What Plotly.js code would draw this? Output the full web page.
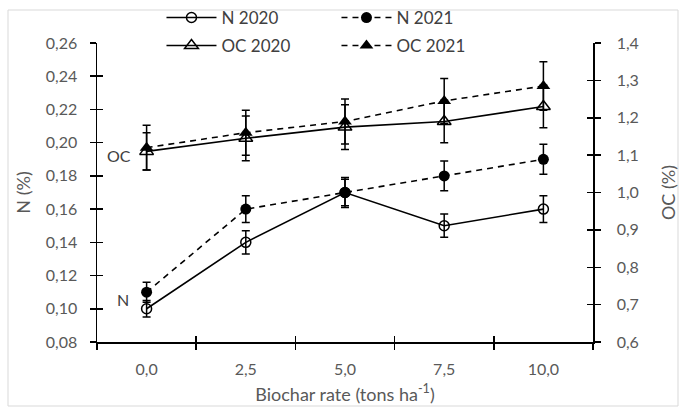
<!DOCTYPE html>
<html>
<head>
<meta charset="utf-8">
<script src="https://cdn.plot.ly/plotly-3.0.1.min.js"></script>
<style>
  html, body { margin: 0; padding: 0; background: #ffffff; }
  #chart { width: 679px; height: 407px; }
</style>
</head>
<body>
<div id="chart"></div>
<script>
// ---- data ----
var rates = ["0,0", "2,5", "5,0", "7,5", "10,0"];

var n2020 = [0.10, 0.14, 0.17, 0.15, 0.16];
var n2020Err = [0.005, 0.007, 0.008, 0.007, 0.008];

var n2021 = [0.11, 0.16, 0.17, 0.18, 0.19];
var n2021Err = [0.006, 0.008, 0.009, 0.009, 0.009];

var oc2020 = [1.11, 1.145, 1.175, 1.19, 1.23];
var oc2020Err = [0.05, 0.06, 0.06, 0.057, 0.057];

var oc2021 = [1.12, 1.16, 1.19, 1.245, 1.285];
var oc2021Err = [0.06, 0.06, 0.06, 0.06, 0.065];

var leftTicks = [0.08, 0.10, 0.12, 0.14, 0.16, 0.18, 0.20, 0.22, 0.24, 0.26];
var rightTicks = [0.6, 0.7, 0.8, 0.9, 1.0, 1.1, 1.2, 1.3, 1.4];
var boundaries = [-0.5, 0.5, 1.5, 2.5, 3.5, 4.5];

var FONT = "Lato, 'Open Sans', sans-serif";
var TICKC = "#595959";
var TEXTC = "#404040";

function errBar(arr) {
  return { type: "data", array: arr, visible: true, color: "#000", thickness: 1.5, width: 4 };
}

var traces = [
  {
    name: "N 2020", x: rates, y: n2020, error_y: errBar(n2020Err),
    type: "scatter", mode: "lines+markers", xaxis: "x", yaxis: "y", legend: "legend",
    line: { color: "#000", width: 1.6, dash: "solid" },
    marker: { symbol: "circle-open", size: 10, color: "#000", line: { width: 1.5, color: "#000" } }
  },
  {
    name: "N 2021", x: rates, y: n2021, error_y: errBar(n2021Err),
    type: "scatter", mode: "lines+markers", xaxis: "x", yaxis: "y", legend: "legend",
    line: { color: "#000", width: 1.6, dash: "6px,5px" },
    marker: { symbol: "circle", size: 11, color: "#000" }
  },
  {
    name: "OC 2020", x: rates, y: oc2020, error_y: errBar(oc2020Err),
    type: "scatter", mode: "lines+markers", xaxis: "x", yaxis: "y2", legend: "legend2",
    line: { color: "#000", width: 1.6, dash: "solid" },
    marker: { symbol: "triangle-up-open", size: 12, color: "#000", line: { width: 1.5, color: "#000" } }
  },
  {
    name: "OC 2021", x: rates, y: oc2021, error_y: errBar(oc2021Err),
    type: "scatter", mode: "lines+markers", xaxis: "x", yaxis: "y2", legend: "legend2",
    line: { color: "#000", width: 1.6, dash: "6px,5px" },
    marker: { symbol: "triangle-up", size: 12, color: "#000" }
  },
  // helper empty traces so the inside-tick axes are drawn
  { x: [], y: [], xaxis: "x2", yaxis: "y3", showlegend: false, hoverinfo: "skip", type: "scatter" },
  { x: [], y: [], xaxis: "x2", yaxis: "y4", showlegend: false, hoverinfo: "skip", type: "scatter" }
];

var layout = {
  width: 679, height: 407,
  margin: { l: 97, r: 86, t: 43, b: 65, pad: 0, autoexpand: false },
  paper_bgcolor: "#ffffff", plot_bgcolor: "#ffffff",
  separators: ",.",
  font: { family: FONT, size: 16, color: TICKC },
  showlegend: true,
  xaxis: {
    type: "category", range: [-0.5, 4.5], fixedrange: true,
    showline: true, linecolor: "#000", linewidth: 1.5,
    showgrid: false, zeroline: false,
    ticks: "outside", ticklen: 6, tickwidth: 1.5, tickcolor: "#000",
    tickson: "boundaries", ticklabelstandoff: 12,
    tickfont: { family: FONT, size: 16, color: TICKC },
    title: { text: "Biochar rate (tons ha<sup>-1</sup>)", font: { family: FONT, size: 18, color: TICKC }, standoff: 11 }
  },
  xaxis2: {
    overlaying: "x", anchor: "y3", range: [-0.5, 4.5], fixedrange: true,
    showline: false, showgrid: false, zeroline: false, showticklabels: false,
    tickmode: "array", tickvals: boundaries,
    ticks: "inside", ticklen: 6, tickwidth: 1.5, tickcolor: "#000"
  },
  yaxis: {
    range: [0.08, 0.26], fixedrange: true,
    tickmode: "array", tickvals: leftTicks, tickformat: ".2f",
    showline: true, linecolor: "#000", linewidth: 1.5,
    showgrid: false, zeroline: false,
    ticks: "outside", ticklen: 6, tickwidth: 1.5, tickcolor: "#000",
    ticklabelstandoff: 9,
    tickfont: { family: FONT, size: 16, color: TICKC },
    title: { text: "N (%)", font: { family: FONT, size: 18, color: TICKC }, standoff: 10 }
  },
  yaxis2: {
    overlaying: "y", side: "right", anchor: "x",
    range: [0.6, 1.4], fixedrange: true,
    tickmode: "array", tickvals: rightTicks, tickformat: ".1f",
    showline: true, linecolor: "#000", linewidth: 1.5,
    showgrid: false, zeroline: false,
    ticks: "outside", ticklen: 6, tickwidth: 1.5, tickcolor: "#000",
    ticklabelstandoff: 13,
    tickfont: { family: FONT, size: 16, color: TICKC },
    title: { text: "OC (%)", font: { family: FONT, size: 18, color: TICKC }, standoff: 28 }
  },
  yaxis3: {
    overlaying: "y", side: "left", anchor: "x2",
    range: [0.08, 0.26], fixedrange: true,
    tickmode: "array", tickvals: leftTicks,
    showline: false, showgrid: false, zeroline: false, showticklabels: false,
    ticks: "inside", ticklen: 6, tickwidth: 1.5, tickcolor: "#000"
  },
  yaxis4: {
    overlaying: "y", side: "right", anchor: "x2",
    range: [0.6, 1.4], fixedrange: true,
    tickmode: "array", tickvals: rightTicks,
    showline: false, showgrid: false, zeroline: false, showticklabels: false,
    ticks: "inside", ticklen: 6, tickwidth: 1.5, tickcolor: "#000"
  },
  legend: {
    orientation: "h", x: 0.13, y: 1.0836, xanchor: "left", yanchor: "middle",
    entrywidth: 110, entrywidthmode: "pixels", itemwidth: 50,
    bgcolor: "rgba(0,0,0,0)", font: { family: FONT, size: 17, color: TEXTC },
    traceorder: "normal"
  },
  legend2: {
    orientation: "h", x: 0.13, y: 0.99, xanchor: "left", yanchor: "middle",
    entrywidth: 110, entrywidthmode: "pixels", itemwidth: 50,
    bgcolor: "rgba(0,0,0,0)", font: { family: FONT, size: 17, color: TEXTC },
    traceorder: "normal"
  },
  annotations: [
    { text: "OC", xref: "paper", yref: "paper", x: (119 - 97) / 496, y: (342 - 155) / 299,
      showarrow: false, xanchor: "center", yanchor: "middle",
      font: { family: FONT, size: 16, color: TEXTC } },
    { text: "N", xref: "paper", yref: "paper", x: (123 - 97) / 496, y: (342 - 299) / 299,
      showarrow: false, xanchor: "center", yanchor: "middle",
      font: { family: FONT, size: 16, color: TEXTC } }
  ],
  shapes: [
    { type: "rect", xref: "paper", yref: "paper",
      x0: (8 - 97) / 496, x1: (678 - 97) / 496, y0: (342 - 406) / 299, y1: (342 - 10) / 299,
      line: { color: "#d9d9d9", width: 1 }, fillcolor: "rgba(0,0,0,0)", layer: "below" }
  ]
};

Plotly.newPlot("chart", traces, layout, { displayModeBar: false, staticPlot: true });
</script>
</body>
</html>
